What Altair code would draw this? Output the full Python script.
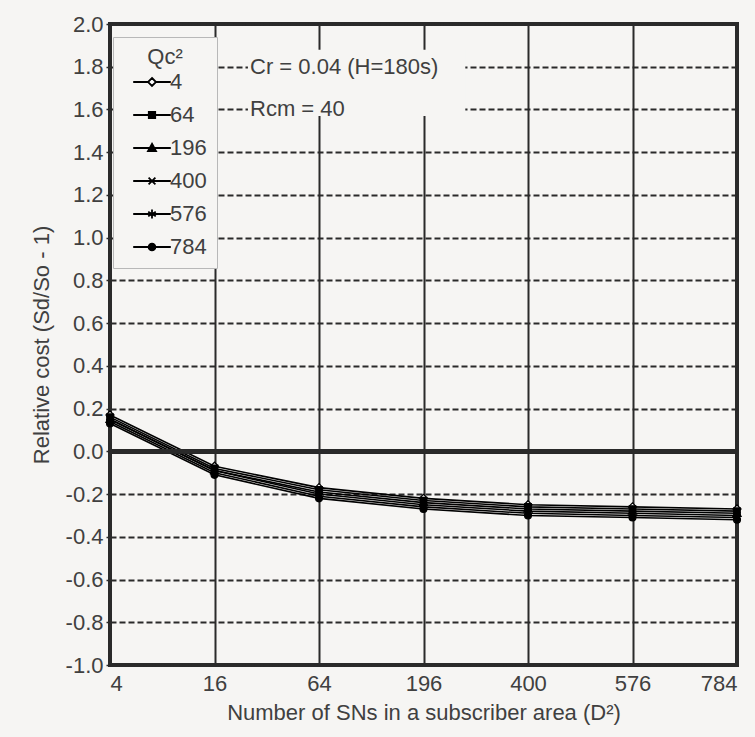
import altair as alt
import pandas as pd

# x positions are evenly spaced categories of D^2
x_labels = ["4", "16", "64", "196", "400", "576", "784"]

# Qc^2 series
series_names = ["4", "64", "196", "400", "576", "784"]
cost_q4 = [0.17, -0.07, -0.17, -0.22, -0.25, -0.26, -0.27]
cost_q64 = [0.16, -0.08, -0.18, -0.23, -0.26, -0.27, -0.28]
cost_q196 = [0.15, -0.09, -0.19, -0.24, -0.27, -0.28, -0.29]
cost_q400 = [0.15, -0.09, -0.20, -0.25, -0.28, -0.29, -0.30]
cost_q576 = [0.14, -0.10, -0.21, -0.26, -0.29, -0.30, -0.31]
cost_q784 = [0.13, -0.11, -0.22, -0.27, -0.30, -0.31, -0.32]
all_costs = [cost_q4, cost_q64, cost_q196, cost_q400, cost_q576, cost_q784]

y_ticks = [round(-1.0 + 0.2 * i, 1) for i in range(16)]

# annotation text and the blank patch behind it (data units)
note_lines = ["Cr = 0.04 (H=180s)", "Rcm = 40"]
note_y = [1.8, 1.6]
note_x = 1.34
note_box = {"x": 1.32, "x2": 3.4, "y": 1.57, "y2": 1.88}

BG = "#f6f5f3"
INK = "#2a2a2a"
TXT = "#404040"
FONT = "Liberation Sans, Arial, Helvetica, sans-serif"

rows = []
for name, vals in zip(series_names, all_costs):
    for i, v in enumerate(vals):
        rows.append({"idx": i, "cost": v, "series": name})
df = pd.DataFrame(rows)

# marker glyphs for the plot
plot_shapes = [
    "M0,-1L1,0L0,1L-1,0Z",
    "M-0.8,-0.8H0.8V0.8H-0.8Z",
    "M0,-1.05L1,0.75H-1Z",
    "M-0.85,-0.85L0.85,0.85M-0.85,0.85L0.85,-0.85",
    "M-0.95,-0.55L0.95,0.55M-0.95,0.55L0.95,-0.55M0,-1.1V1.1",
    "M0.85,0A0.85,0.85 0 1,1 -0.85,0A0.85,0.85 0 1,1 0.85,0Z",
]
marker_fills = ["white", "black", "black", "black", "black", "black"]
marker_strokes = ["black"] * 6

# legend glyphs: a short line through each marker
LINE = "M-4.7,0H4.7"
legend_shapes = [
    "M-4.7,0H-1M1,0H4.7M0,-1L1,0L0,1L-1,0Z",
    LINE + "M-0.8,-0.8H0.8V0.8H-0.8Z",
    LINE + "M0,-1.05L1,0.75H-1Z",
    LINE + "M-0.85,-0.85L0.85,0.85M-0.85,0.85L0.85,-0.85",
    LINE + "M-0.95,-0.55L0.95,0.55M-0.95,0.55L0.95,-0.55M0,-1.1V1.1",
    LINE + "M0.85,0A0.85,0.85 0 1,1 -0.85,0A0.85,0.85 0 1,1 0.85,0Z",
]

label_expr = "[" + ",".join(f"'{s}'" for s in x_labels) + "][datum.value]"
y_label_expr = "(datum.value < -0.001 ? '-' : '') + format(abs(datum.value), '.1f')"

x_enc = alt.X(
    "idx:Q",
    scale=alt.Scale(domain=[0, len(x_labels) - 1], nice=False, zero=False),
    axis=alt.Axis(
        values=list(range(len(x_labels))),
        labelExpr=label_expr,
        title="Number of SNs in a subscriber area (D²)",
        grid=True,
        gridColor=INK,
        gridWidth=2,
        ticks=False,
        domain=False,
        labelPadding=8,
        titlePadding=8,
    ),
)
y_enc = alt.Y(
    "cost:Q",
    scale=alt.Scale(domain=[-1.0, 2.0], nice=False),
    axis=alt.Axis(
        values=y_ticks,
        labelExpr=y_label_expr,
        title="Relative cost (Sd/So - 1)",
        grid=True,
        gridColor=INK,
        gridWidth=2,
        gridDash=[6, 3],
        tickSize=4,
        tickColor=INK,
        tickWidth=1.5,
        domain=False,
        labelPadding=3,
        titlePadding=12,
    ),
)

base = alt.Chart(df)

zero_line = base.mark_rule(color=INK, strokeWidth=4).encode(y=alt.datum(0))

box_df = pd.DataFrame([note_box])
note_patch = alt.Chart(box_df).mark_rect(fill=BG).encode(
    x="x:Q", x2="x2", y="y:Q", y2="y2"
)

note_df = pd.DataFrame({"text": note_lines, "cost": note_y, "idx": [note_x] * 2})
notes = alt.Chart(note_df).mark_text(
    align="left", baseline="middle", fontSize=22, font=FONT, color=TXT
).encode(x="idx:Q", y="cost:Q", text="text:N")

lines = base.mark_line(color="black", strokeWidth=1.6).encode(
    x=x_enc, y=y_enc, detail="series:N"
)

points = base.mark_point(
    filled=False, stroke="black", strokeWidth=1.3, opacity=1, size=64
).encode(
    x="idx:Q",
    y="cost:Q",
    shape=alt.Shape(
        "series:N",
        scale=alt.Scale(domain=series_names, range=plot_shapes),
        legend=None,
    ),
    fill=alt.Fill(
        "series:N",
        scale=alt.Scale(domain=series_names, range=marker_fills),
        legend=None,
    ),
)

key_legend = alt.Legend(
    title="Qc²",
    orient="none",
    legendX=3,
    legendY=13,
    fillColor=BG,
    strokeColor="#b8b8b8",
    padding=10,
    titleAnchor="middle",
    titleFontSize=22,
    titleFont=FONT,
    titleFontWeight="normal",
    titleColor=TXT,
    titlePadding=2,
    labelFontSize=22,
    labelFont=FONT,
    labelColor=TXT,
    labelOffset=7,
    symbolOffset=18,
    symbolSize=64,
    symbolStrokeWidth=1.8,
    rowPadding=11,
)

key = base.transform_filter("false").mark_point(
    filled=False, strokeWidth=1.8, opacity=1, size=64
).encode(
    x="idx:Q",
    y="cost:Q",
    shape=alt.Shape(
        "series:N",
        scale=alt.Scale(domain=series_names, range=legend_shapes),
        legend=key_legend,
    ),
    fill=alt.Fill(
        "series:N",
        scale=alt.Scale(domain=series_names, range=marker_fills),
        legend=key_legend,
    ),
    stroke=alt.Stroke(
        "series:N",
        scale=alt.Scale(domain=series_names, range=marker_strokes),
        legend=key_legend,
    ),
)

chart = (
    alt.layer(lines, zero_line, note_patch, notes, points, key)
    .resolve_scale(shape="independent", fill="independent", stroke="independent")
    .properties(
        width=627,
        height=641,
        autosize=alt.AutoSizeParams(type="none"),
        padding={"left": 110, "top": 24, "right": 18, "bottom": 72},
        background=BG,
    )
    .configure_view(stroke=INK, strokeWidth=4)
    .configure_axis(
        labelFont=FONT,
        titleFont=FONT,
        labelFontSize=22,
        titleFontSize=22,
        labelColor=TXT,
        titleColor=TXT,
        titleFontWeight="normal",
    )
)

chart.save("out.html", embed_options={"renderer": "svg", "actions": False})
